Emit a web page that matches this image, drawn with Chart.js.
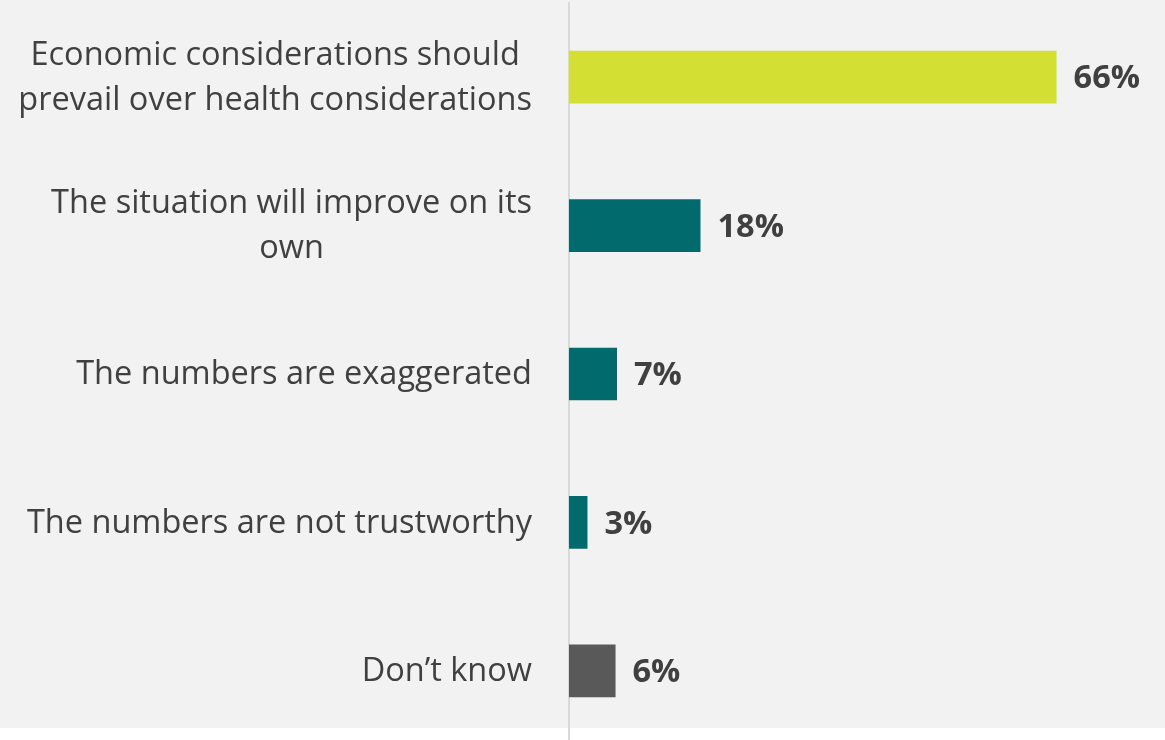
<!DOCTYPE html>
<html>
<head>
<meta charset="utf-8">
<script src="https://cdn.jsdelivr.net/npm/chart.js@4"></script>
<style>
  html, body { margin: 0; padding: 0; background: #fff; overflow: hidden; }
  canvas { display: block; }
</style>
</head>
<body>
<canvas id="chart" width="1165" height="745"></canvas>
<script>
const categories = [
  ["Economic considerations should", "prevail over health considerations"],
  ["The situation will improve on its", "own"],
  ["The numbers are exaggerated"],
  ["The numbers are not trustworthy"],
  ["Don\u2019t know"],
];
// bar lengths as measured (labels show the rounded figures)
const values = [66, 17.8, 6.5, 2.5, 6.3];
const valueLabels = ["66%", "18%", "7%", "3%", "6%"];
const barColors = ["#d4df33", "#006a6d", "#006a6d", "#006a6d", "#595959"];

// grey panel behind the chart (stops a bit above the bottom, like the source)
const panel = {
  id: "panel",
  beforeDraw(chart) {
    const ctx = chart.ctx;
    ctx.save();
    ctx.fillStyle = "#f2f2f2";
    ctx.fillRect(0, 0, chart.width, 728);
    ctx.restore();
  },
};

// category labels: block right aligned, lines centred inside the block
const sideLabels = {
  id: "sideLabels",
  afterDraw(chart) {
    const ctx = chart.ctx;
    const y = chart.scales.y;
    const lineH = 45;
    ctx.save();
    ctx.font = "32.5px 'Open Sans'";
    ctx.fillStyle = "#404040";
    ctx.textBaseline = "middle";
    ctx.textAlign = "center";
    categories.forEach((lines, i) => {
      const cy = y.getPixelForValue(i) + 1;
      const w = Math.max(...lines.map((l) => ctx.measureText(l).width));
      const cx = 532 - w / 2;
      lines.forEach((l, k) => {
        ctx.fillText(l, cx, cy + (k - (lines.length - 1) / 2) * lineH);
      });
    });

    // value labels at the bar ends
    ctx.font = "bold 32.5px 'Open Sans'";
    ctx.textAlign = "left";
    chart.getDatasetMeta(0).data.forEach((bar, i) => {
      ctx.fillText(valueLabels[i], bar.x + 17, bar.y + 2);
    });
    ctx.restore();
  },
};

new Chart(document.getElementById("chart"), {
  type: "bar",
  data: {
    labels: categories,
    datasets: [
      {
        data: values,
        backgroundColor: barColors,
        categoryPercentage: 1,
        barPercentage: 0.355,
      },
    ],
  },
  options: {
    indexAxis: "y",
    responsive: false,
    animation: false,
    layout: { padding: { top: 3, right: 5, left: 0, bottom: 0 } },
    plugins: {
      legend: { display: false },
      tooltip: { enabled: false },
    },
    scales: {
      x: { display: false, min: 0, max: 80 },
      y: {
        ticks: { display: false },
        grid: { display: false },
        border: { display: true, color: "#d9d9d9", width: 2 },
        afterFit(scale) {
          scale.width = 569;
        },
      },
    },
  },
  plugins: [panel, sideLabels],
});
</script>
</body>
</html>
